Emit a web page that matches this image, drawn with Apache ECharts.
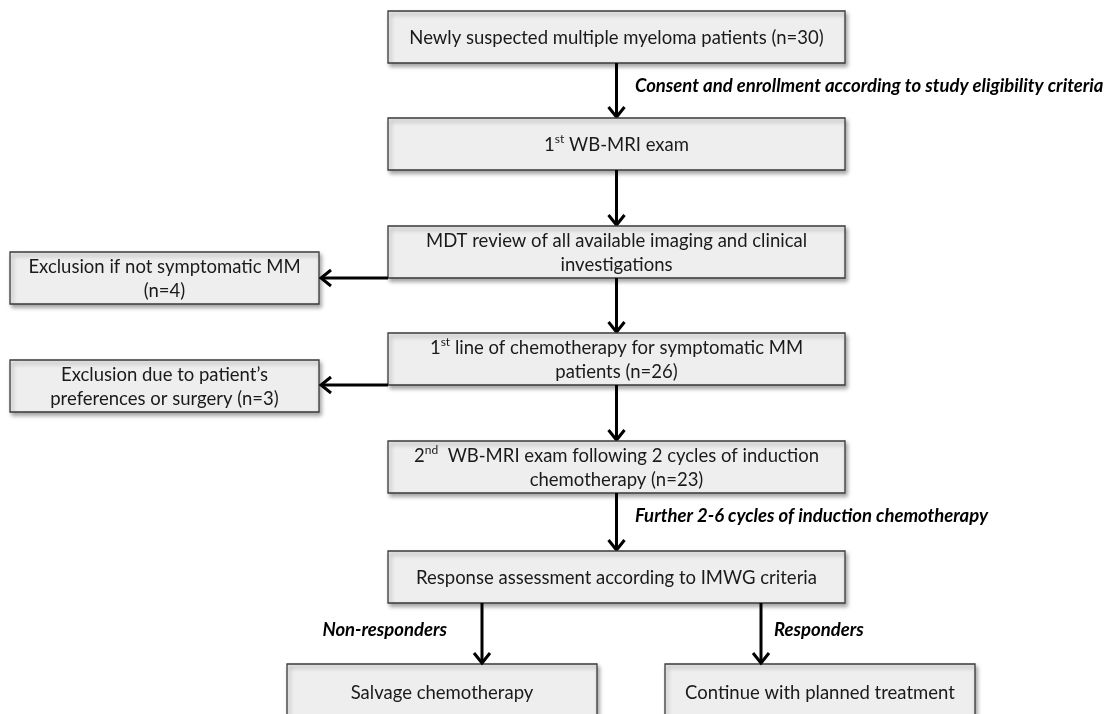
<!DOCTYPE html>
<html>
<head>
<meta charset="utf-8">
<script src="https://cdn.jsdelivr.net/npm/echarts@6/dist/echarts.min.js"></script>
<style>
  html, body { margin: 0; background: #fff; }
  #chart { width: 1111px; height: 714px; }
</style>
</head>
<body>
<div id="chart"></div>
<script>
// main column, top to bottom
const mainSteps = [
  'Newly suspected multiple myeloma patients (n=30)',
  '1{sup|st} WB-MRI exam',
  'MDT review of all available imaging and clinical\ninvestigations',
  '1{sup|st} line of chemotherapy for symptomatic MM\npatients (n=26)',
  '2{sup|nd}  WB-MRI exam following 2 cycles of induction\nchemotherapy (n=23)',
  'Response assessment according to IMWG criteria'
];
// side branches (index of the main step they leave from)
const exclusions = [
  'Exclusion if not symptomatic MM\n(n=4)',
  'Exclusion due to patient\u2019s\npreferences or surgery (n=3)'
];
const exclusionFrom = [2, 3];
// final split
const outcomes = ['Salvage chemotherapy', 'Continue with planned treatment'];
const outcomeLabels = ['Non-responders', 'Responders'];
// notes on arrows between main steps (arrow below step i)
const noteSteps = [0, 4];
const noteTexts = [
  'Consent and enrollment according to study eligibility criteria',
  'Further 2-6 cycles of induction chemotherapy'
];

// page layout, in pixels of the 1111x714 figure
const L = {
  mainLeft: 388, mainRight: 845, boxH: 52,
  mainTop: [11, 118, 226, 333, 441, 551],
  exLeft: 10, exRight: 319, exTop: [252, 360],
  outLeft: [287, 665], outW: 310, outH: 56, outTop: 664, outArrowX: [482, 761],
  noteX: 635, noteDy: 23
};

const mainCx = (L.mainLeft + L.mainRight) / 2;
const items = [];

mainSteps.forEach((t, i) => {
  items.push({ kind: 'box', x0: L.mainLeft, y0: L.mainTop[i], x1: L.mainRight, y1: L.mainTop[i] + L.boxH, text: t });
  if (i < mainSteps.length - 1) {
    items.push({ kind: 'arrow', from: [mainCx, L.mainTop[i] + L.boxH], to: [mainCx, L.mainTop[i + 1]] });
  }
});
exclusions.forEach((t, i) => {
  items.push({ kind: 'box', x0: L.exLeft, y0: L.exTop[i], x1: L.exRight, y1: L.exTop[i] + L.boxH, text: t });
  const y = L.mainTop[exclusionFrom[i]] + L.boxH;
  items.push({ kind: 'arrow', from: [L.mainLeft, y], to: [L.exRight + 1, y] });
});
outcomes.forEach((t, i) => {
  items.push({ kind: 'box', x0: L.outLeft[i], y0: L.outTop, x1: L.outLeft[i] + L.outW, y1: L.outTop + L.outH, text: t });
  const x = L.outArrowX[i];
  const yTop = L.mainTop[5] + L.boxH;
  items.push({ kind: 'arrow', from: [x, yTop], to: [x, L.outTop] });
  items.push({
    kind: 'note', text: outcomeLabels[i],
    x: i === 0 ? x - 35 : x + 13, y: (yTop + L.outTop) / 2 - 3,
    align: i === 0 ? 'right' : 'left'
  });
});
noteSteps.forEach((s, i) => {
  items.push({ kind: 'note', text: noteTexts[i], x: L.noteX, y: L.mainTop[s] + L.boxH + L.noteDy, align: 'left' });
});

const FONT = 'Lato, "Open Sans", sans-serif';

function renderItem(params, api) {
  const it = items[params.dataIndex];
  if (it.kind === 'box') {
    const p0 = api.coord([it.x0, it.y0]);
    const p1 = api.coord([it.x1, it.y1]);
    return {
      type: 'group',
      children: [
        {
          type: 'rect',
          shape: { x: p0[0], y: p0[1], width: p1[0] - p0[0], height: p1[1] - p0[1] },
          style: {
            fill: '#eeeeee', stroke: '#3a3a3a', lineWidth: 1.3,
            shadowBlur: 4, shadowOffsetX: 2, shadowOffsetY: 3, shadowColor: 'rgba(0,0,0,0.35)'
          }
        },
        {
          type: 'text',
          style: {
            x: (p0[0] + p1[0]) / 2, y: (p0[1] + p1[1]) / 2 + 1,
            text: it.text, align: 'center', verticalAlign: 'middle',
            fontFamily: FONT, fontSize: 18.5, lineHeight: 24, fill: '#1a1a1a',
            rich: { sup: { fontFamily: FONT, fontSize: 12, lineHeight: 24, verticalAlign: 'top', fill: '#1a1a1a' } }
          }
        }
      ]
    };
  }
  if (it.kind === 'arrow') {
    const a = api.coord(it.from);
    const b = api.coord(it.to);
    const dx = Math.sign(b[0] - a[0]);
    const dy = Math.sign(b[1] - a[1]);
    const back = 11, side = 8;
    const head = dy !== 0
      ? [[b[0] - side, b[1] - dy * back], [b[0], b[1] - dy], [b[0] + side, b[1] - dy * back]]
      : [[b[0] - dx * back, b[1] - side], [b[0] - dx, b[1]], [b[0] - dx * back, b[1] + side]];
    return {
      type: 'group',
      children: [
        { type: 'line', shape: { x1: a[0], y1: a[1], x2: b[0] - dx * 2, y2: b[1] - dy * 2 }, style: { stroke: '#000', lineWidth: 3 } },
        { type: 'polyline', shape: { points: head }, style: { stroke: '#000', lineWidth: 3, fill: null, lineJoin: 'miter' } }
      ]
    };
  }
  const p = api.coord([it.x, it.y]);
  return {
    type: 'text',
    style: {
      x: p[0], y: p[1], text: it.text, align: it.align, verticalAlign: 'middle',
      fontFamily: FONT, fontSize: 18.5, fontWeight: 'bold', fontStyle: 'italic', fill: '#000'
    }
  };
}

const chart = echarts.init(document.getElementById('chart'));
chart.setOption({
  animation: false,
  grid: { left: 0, right: 0, top: 0, bottom: 0 },
  xAxis: { type: 'value', min: 0, max: 1111, show: false },
  yAxis: { type: 'value', min: 0, max: 714, inverse: true, show: false },
  series: [{
    type: 'custom',
    clip: false,
    renderItem: renderItem,
    data: items.map((d, i) => [i, 0])
  }]
});
</script>
</body>
</html>
